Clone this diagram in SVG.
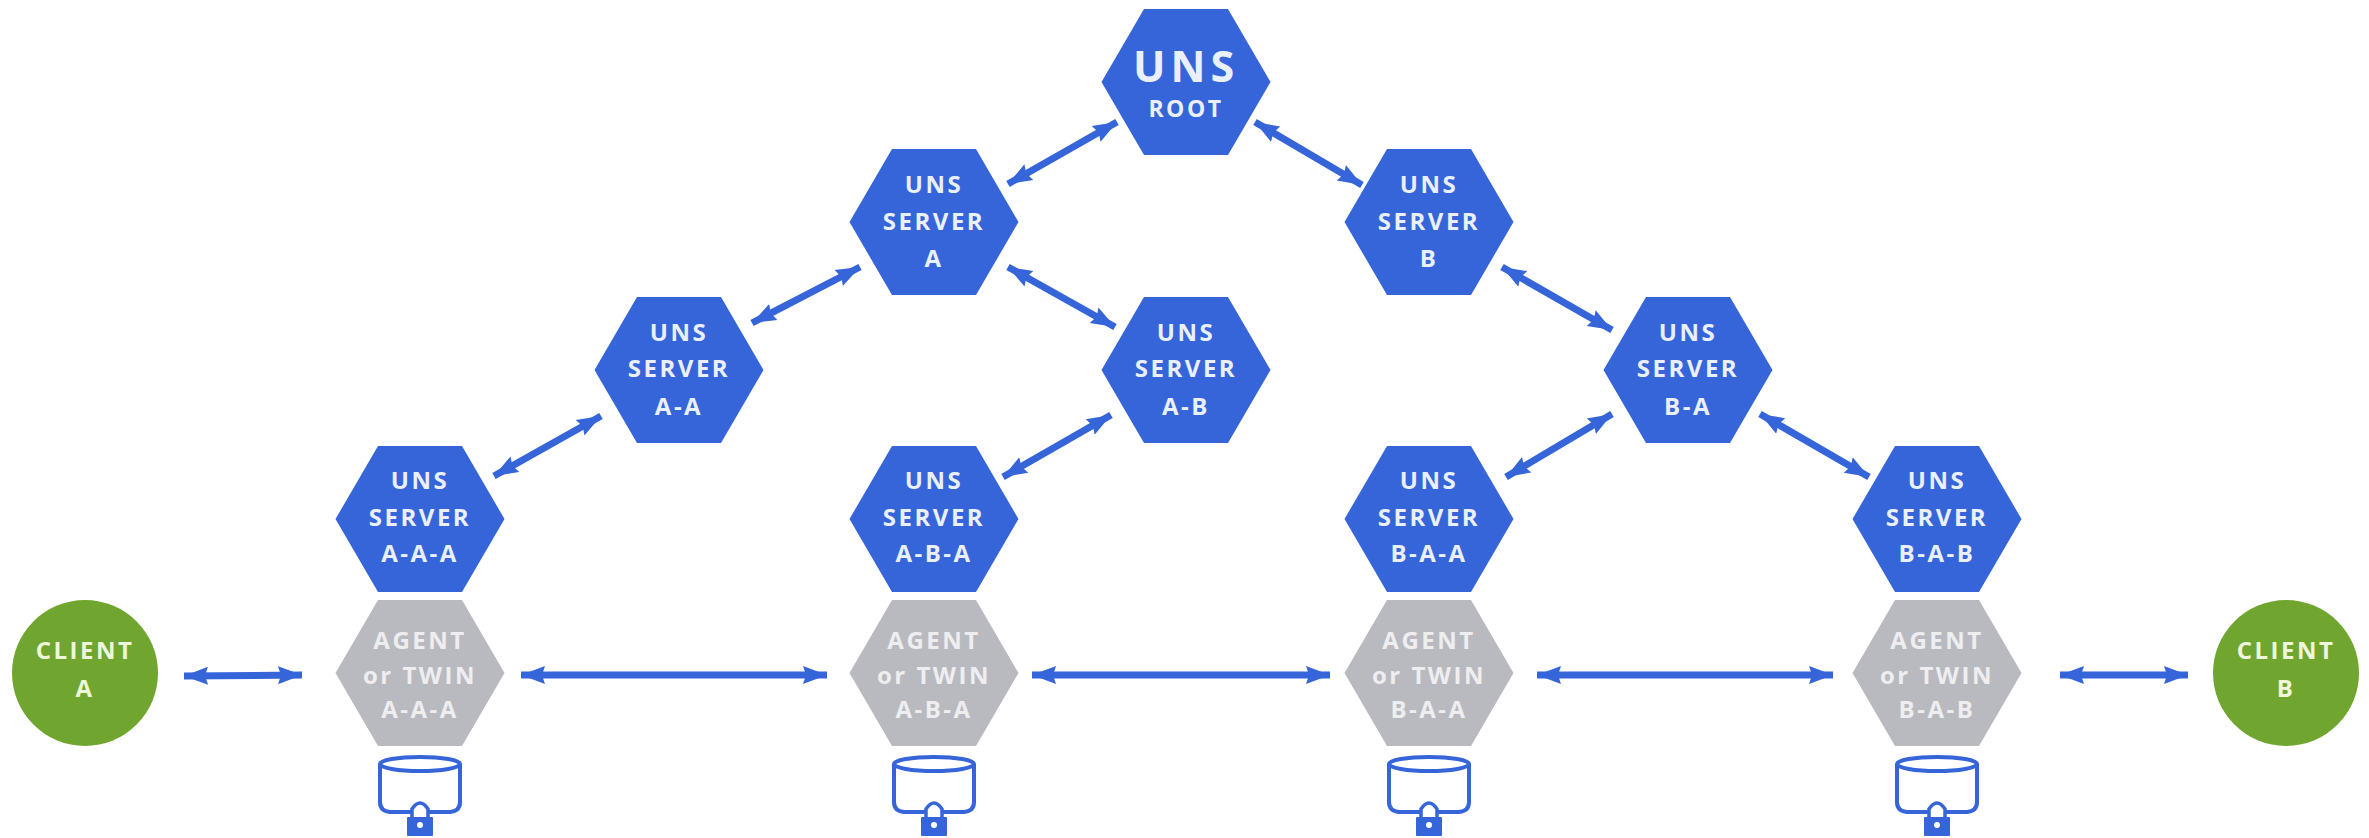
<svg xmlns="http://www.w3.org/2000/svg" width="2369" height="838" viewBox="0 0 2369 838">
<style>
text{font-family:"Open Sans","Liberation Sans",sans-serif;font-weight:700;text-anchor:middle;letter-spacing:2.5px}
.t{fill:#eaf0fb;font-size:24px}
.g{fill:#eeeef0;font-size:24px}
.c{fill:#eef6dc;font-size:24px}
.hb{fill:#3565d9}
.hg{fill:#b9babf}
.l{stroke:#3565d9;stroke-width:7;fill:none;marker-start:url(#a);marker-end:url(#a)}
.db{fill:#fff;stroke:#3565d9;stroke-width:4}
</style>
<defs>
<marker id="a" markerUnits="userSpaceOnUse" markerWidth="26" markerHeight="22" refX="24" refY="11" orient="auto-start-reverse"><path d="M0 2L24 11L0 20L3 11Z" fill="#3565d9"/></marker>
<polygon id="hex" points="-84.500,0 -42,-73 42,-73 84.500,0 42,73 -42,73"/>
<g id="db">
<path class="db" d="M-40 -46V-8Q-40 1 -30 2H30Q40 1 40 -8V-46"/>
<ellipse class="db" cx="0" cy="-46" rx="40" ry="7"/>
<path d="M-8 8V-1Q0 -13 8 -1V8" fill="#fff" stroke="#3565d9" stroke-width="3.500"/>
<rect x="-13" y="7" width="26" height="19" rx="1" fill="#3565d9"/>
<circle cx="0" cy="15" r="3" fill="#fff"/>
</g>
</defs>
<rect width="2369" height="838" fill="#fff"/>
<g id="connectors">
<line class="l" x1="1008" y1="184" x2="1117" y2="122"/>
<line class="l" x1="1255" y1="122" x2="1362" y2="185"/>
<line class="l" x1="752" y1="323" x2="860" y2="267"/>
<line class="l" x1="1008" y1="267" x2="1115" y2="327"/>
<line class="l" x1="1502" y1="267" x2="1612" y2="330"/>
<line class="l" x1="494" y1="476" x2="601" y2="416"/>
<line class="l" x1="1003" y1="477" x2="1111" y2="415"/>
<line class="l" x1="1506" y1="477" x2="1612" y2="414"/>
<line class="l" x1="1760" y1="414" x2="1869" y2="477"/>
<line class="l" x1="184" y1="676" x2="302" y2="675"/>
<line class="l" x1="521" y1="675" x2="827" y2="675"/>
<line class="l" x1="1032" y1="675" x2="1330" y2="675"/>
<line class="l" x1="1537" y1="675" x2="1833" y2="675"/>
<line class="l" x1="2060" y1="675" x2="2188" y2="675"/>
</g>
<g id="root"><use href="#hex" x="1186" y="82" class="hb"/><text x="1186" y="82" class="t" style="font-size:43px;letter-spacing:5px">UNS</text><text x="1186" y="117" class="t" style="font-size:23px">ROOT</text></g>
<g id="server-a"><use href="#hex" x="934" y="222" class="hb"/><text x="934" y="193" class="t">UNS</text><text x="934" y="230" class="t">SERVER</text><text x="934" y="267" class="t">A</text></g>
<g id="server-b"><use href="#hex" x="1429" y="222" class="hb"/><text x="1429" y="193" class="t">UNS</text><text x="1429" y="230" class="t">SERVER</text><text x="1429" y="267" class="t">B</text></g>
<g id="server-a-a"><use href="#hex" x="679" y="370" class="hb"/><text x="679" y="341" class="t">UNS</text><text x="679" y="377" class="t">SERVER</text><text x="679" y="415" class="t">A-A</text></g>
<g id="server-a-b"><use href="#hex" x="1186" y="370" class="hb"/><text x="1186" y="341" class="t">UNS</text><text x="1186" y="377" class="t">SERVER</text><text x="1186" y="415" class="t">A-B</text></g>
<g id="server-b-a"><use href="#hex" x="1688" y="370" class="hb"/><text x="1688" y="341" class="t">UNS</text><text x="1688" y="377" class="t">SERVER</text><text x="1688" y="415" class="t">B-A</text></g>
<g id="server-a-a-a"><use href="#hex" x="420" y="519" class="hb"/><text x="420" y="489" class="t">UNS</text><text x="420" y="526" class="t">SERVER</text><text x="420" y="562" class="t">A-A-A</text></g>
<g id="server-a-b-a"><use href="#hex" x="934" y="519" class="hb"/><text x="934" y="489" class="t">UNS</text><text x="934" y="526" class="t">SERVER</text><text x="934" y="562" class="t">A-B-A</text></g>
<g id="server-b-a-a"><use href="#hex" x="1429" y="519" class="hb"/><text x="1429" y="489" class="t">UNS</text><text x="1429" y="526" class="t">SERVER</text><text x="1429" y="562" class="t">B-A-A</text></g>
<g id="server-b-a-b"><use href="#hex" x="1937" y="519" class="hb"/><text x="1937" y="489" class="t">UNS</text><text x="1937" y="526" class="t">SERVER</text><text x="1937" y="562" class="t">B-A-B</text></g>
<g id="agent-a-a-a"><use href="#hex" x="420" y="673" class="hg"/><text x="420" y="649" class="g">AGENT</text><text x="420" y="684" class="g">or TWIN</text><text x="420" y="718" class="g">A-A-A</text></g>
<g id="agent-a-b-a"><use href="#hex" x="934" y="673" class="hg"/><text x="934" y="649" class="g">AGENT</text><text x="934" y="684" class="g">or TWIN</text><text x="934" y="718" class="g">A-B-A</text></g>
<g id="agent-b-a-a"><use href="#hex" x="1429" y="673" class="hg"/><text x="1429" y="649" class="g">AGENT</text><text x="1429" y="684" class="g">or TWIN</text><text x="1429" y="718" class="g">B-A-A</text></g>
<g id="agent-b-a-b"><use href="#hex" x="1937" y="673" class="hg"/><text x="1937" y="649" class="g">AGENT</text><text x="1937" y="684" class="g">or TWIN</text><text x="1937" y="718" class="g">B-A-B</text></g>
<g id="client-a"><circle cx="85" cy="673" r="73" fill="#70a62f"/><text x="85" y="659" class="c">CLIENT</text><text x="85" y="697" class="c">A</text></g>
<g id="client-b"><circle cx="2286" cy="673" r="73" fill="#70a62f"/><text x="2286" y="659" class="c">CLIENT</text><text x="2286" y="697" class="c">B</text></g>
<g id="store-a-a-a"><use href="#db" x="420" y="810"/></g>
<g id="store-a-b-a"><use href="#db" x="934" y="810"/></g>
<g id="store-b-a-a"><use href="#db" x="1429" y="810"/></g>
<g id="store-b-a-b"><use href="#db" x="1937" y="810"/></g>
</svg>
